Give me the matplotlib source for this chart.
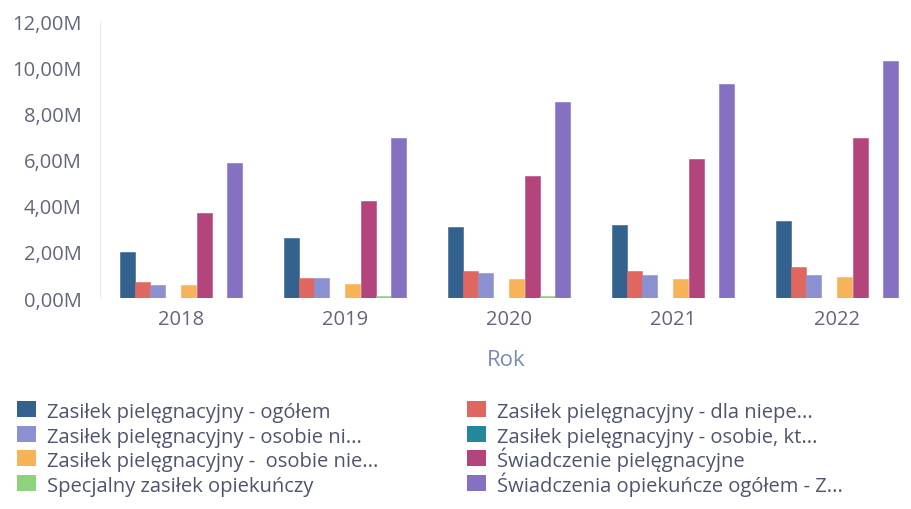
import numpy as np
import matplotlib.pyplot as plt
from matplotlib.patches import Rectangle
from matplotlib.ticker import FuncFormatter

plt.rcParams['font.family'] = ['Open Sans', 'DejaVu Sans']

years = ['2018', '2019', '2020', '2021', '2022']

# values in millions
ogolem = [2.01, 2.60, 3.06, 3.17, 3.35]
dla_niepe = [0.68, 0.87, 1.16, 1.17, 1.35]
osobie_ni = [0.58, 0.87, 1.07, 1.00, 1.01]
osobie_kt = [0, 0, 0, 0, 0]
osobie_nie = [0.57, 0.62, 0.81, 0.83, 0.91]
swiadczenie_piel = [3.70, 4.20, 5.29, 6.04, 6.91]
specjalny = [0, 0.08, 0.08, 0, 0]
opiekuncze_ogolem = [5.83, 6.91, 8.51, 9.27, 10.27]

series_names = [
    'Zasiłek pielęgnacyjny - ogółem',
    'Zasiłek pielęgnacyjny - dla niepe...',
    'Zasiłek pielęgnacyjny - osobie ni...',
    'Zasiłek pielęgnacyjny - osobie, kt...',
    'Zasiłek pielęgnacyjny -  osobie nie...',
    'Świadczenie pielęgnacyjne',
    'Specjalny zasiłek opiekuńczy',
    'Świadczenia opiekuńcze ogółem - Z...',
]
series = [ogolem, dla_niepe, osobie_ni, osobie_kt, osobie_nie,
          swiadczenie_piel, specjalny, opiekuncze_ogolem]
colors = ['#34628f', '#e0675f', '#8b91d0', '#23899a',
          '#f8b257', '#b4457c', '#8fd27e', '#8670c2']

W, H = 912, 510
fig = plt.figure(figsize=(W / 100, H / 100), dpi=100)
ax = fig.add_axes([100 / W, 1 - 299 / H, 812 / W, 277 / H])

x = np.arange(len(years))
w = 0.094
for i, (vals, c) in enumerate(zip(series, colors)):
    ax.bar(x + (i - 3.5) * w, vals, width=w * 0.97, color=c,
           edgecolor=c, linewidth=0.4)

ax.set_xlim(-81 / 164, 4 + 75 / 164)
ax.set_ylim(0, 12)
ax.set_yticks(np.arange(0, 13, 2))
ax.yaxis.set_major_formatter(FuncFormatter(lambda v, p: f'{v:.2f}'.replace('.', ',') + 'M'))
ax.set_xticks(x)
ax.set_xticklabels(years)

for s in ['top', 'right', 'bottom']:
    ax.spines[s].set_visible(False)
ax.spines['left'].set_color('#ececf0')
ax.spines['left'].set_linewidth(0.8)
ax.axhline(0, color='#d8d8e0', lw=0.8, ls=(0, (1, 2)))

ax.tick_params(axis='both', length=0, labelsize=14.5, colors='#62667c')
ax.tick_params(axis='y', pad=13)
ax.tick_params(axis='x', pad=8)
ax.set_xlabel('Rok', fontsize=16, color='#7c8bb5', labelpad=14)

# legend in two columns, placed in pixel coordinates
col_x = [17, 467]
row_base = [418, 443, 467, 492]
for i, (name, c) in enumerate(zip(series_names, colors)):
    cx = col_x[i % 2]
    by = row_base[i // 2]
    fig.add_artist(Rectangle((cx / W, 1 - by / H), 19 / W, 16 / H,
                             transform=fig.transFigure, facecolor=c,
                             edgecolor='none'))
    fig.text((cx + 30) / W, 1 - by / H, name, fontsize=14.5,
             color='#4e5470', ha='left', va='baseline')

fig.savefig('out.png', dpi=100)
